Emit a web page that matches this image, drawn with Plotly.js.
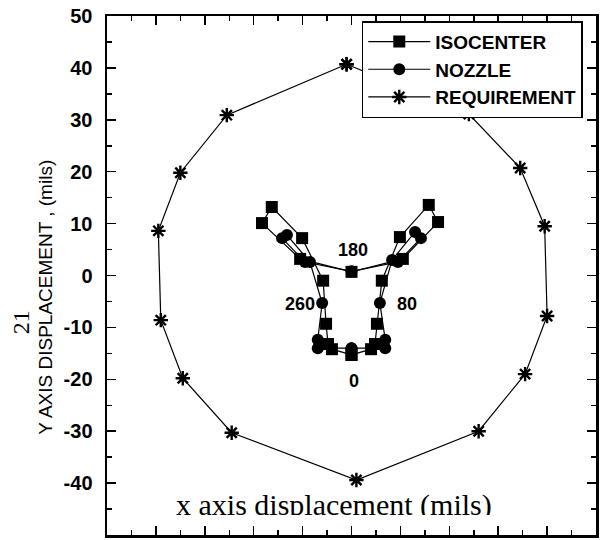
<!DOCTYPE html>
<html>
<head>
<meta charset="utf-8">
<script src="https://cdn.plot.ly/plotly-3.0.1.min.js"></script>
<style>html,body{margin:0;padding:0;background:#fff;}#chart{width:600px;height:540px;}</style>
</head>
<body>
<div id="chart"></div>
<script>
// ISOCENTER displacement (mils)
const isoX = [0, 4.0, 4.8, 5.2, 6.2, 9.9, 15.8, 17.7, 10.5, 0, -10.5, -18.3, -16.3, -10.1, -5.8, -5.2, -4.8, -4.0, 0];
const isoY = [-15.3, -14.2, -13.2, -9.3, -1.0, 7.4, 13.6, 10.3, 3.2, 0.7, 3.2, 10.1, 13.2, 7.2, -1.0, -9.3, -13.2, -14.2, -15.3];
// NOZZLE displacement (mils)
const nozX = [0, 6.9, 6.9, 5.8, 8.3, 13.0, 14.2, 9.5, 0, -9.5, -14.2, -13.2, -8.5, -6.0, -6.9, -6.9, 0];
const nozY = [-14.0, -14.0, -12.4, -5.3, 3.0, 8.4, 7.2, 2.6, 0.8, 2.6, 7.2, 7.8, 2.6, -5.3, -12.4, -14.0, -14.0];
// REQUIREMENT boundary (mils)
const reqX = [-1, -25.5, -35, -39.5, -39, -34.5, -24.5, 1, 26, 35.5, 40, 39.5, 34.5, 24, -1];
const reqY = [40.7, 30.9, 19.8, 8.6, -8.6, -19.8, -30.3, -39.4, -30, -19, -7.8, 9.5, 20.7, 31.1, 40.7];
// Gantry angle labels
const angLabels = ['180', '260', '80', '0'];
const angX = [0.3, -10.5, 11.3, 0.5];
const angY = [4.9, -5.5, -5.5, -20.3];
const yTicks = [-50, -40, -30, -20, -10, 0, 10, 20, 30, 40, 50];
const yTickText = ['-50', '-40', '-30', '-20', '-10', '0', '10', '20', '30', '40', '50'];

const lineStyle = {color: '#000', width: 1.2};
const traces = [
  {x: nozX, y: nozY, name: 'NOZZLE', mode: 'lines+markers', legendrank: 2,
   line: lineStyle, marker: {symbol: 'circle', size: 12, color: '#000'}},
  {x: isoX, y: isoY, name: 'ISOCENTER', mode: 'lines+markers', legendrank: 1,
   line: lineStyle, marker: {symbol: 'square', size: 12, color: '#000'}},
  {x: reqX, y: reqY, name: 'REQUIREMENT', mode: 'lines+markers', legendrank: 3,
   line: lineStyle, marker: {symbol: 'asterisk-open', size: 12, color: '#000', line: {color: '#000', width: 2.4}}}
];

const sans = 'Liberation Sans, Arial, sans-serif';
const serif = 'Liberation Serif, Times New Roman, serif';
const annotations = angLabels.map((t, i) => ({
  x: angX[i], y: angY[i], xref: 'x', yref: 'y', text: '<b>' + t + '</b>', showarrow: false,
  font: {family: sans, size: 18, color: '#000'}
}));
annotations.push({
  x: -3.6, y: -44.2, xref: 'x', yref: 'y', text: 'x axis displacement (mils)', showarrow: false,
  xanchor: 'center', yanchor: 'middle',
  font: {family: serif, size: 30, color: '#000'}
});
// white strip that clips the bottom of the pasted x-axis caption
annotations.push({
  x: -3.6, y: -47.15, xref: 'x', yref: 'y', text: '&nbsp;', showarrow: false,
  xanchor: 'center', yanchor: 'middle', width: 340, height: 11, bgcolor: '#fff',
  borderpad: 0, borderwidth: 0, font: {size: 6}
});
annotations.push({
  xref: 'paper', yref: 'paper', x: -0.125, y: 0.459, xanchor: 'center', yanchor: 'middle',
  text: 'Y AXIS DISPLACEMENT , (mils)', textangle: -90, showarrow: false,
  font: {family: sans, size: 19, color: '#000'}
});
annotations.push({
  xref: 'paper', yref: 'paper', x: -0.176, y: 0.41, xanchor: 'center', yanchor: 'middle',
  text: '21', textangle: -90, showarrow: false,
  font: {family: serif, size: 24, color: '#000'}
});

const layout = {
  width: 600, height: 540,
  margin: {l: 107, r: 4, t: 16, b: 5},
  paper_bgcolor: '#fff', plot_bgcolor: '#fff',
  showlegend: true,
  legend: {
    x: 0.521, y: 0.99, xanchor: 'left', yanchor: 'top',
    bgcolor: '#fff', bordercolor: '#000', borderwidth: 1.5,
    font: {family: sans, size: 19, color: '#000', weight: 'bold'},
    itemwidth: 62, tracegroupgap: 0
  },
  xaxis: {
    range: [-50, 50], dtick: 10, showgrid: false, zeroline: false,
    showticklabels: false, ticks: 'inside', ticklen: 9, tickwidth: 1.5, tickcolor: '#000',
    showline: true, linecolor: '#000', linewidth: 2.5, mirror: 'ticks',
    minor: {dtick: 5, ticks: 'inside', ticklen: 5, tickwidth: 1.5, tickcolor: '#000', showgrid: false}
  },
  yaxis: {
    range: [-50, 50], tickvals: yTicks, ticktext: yTickText.map(t => '<b>' + t + '</b>'),
    showgrid: false, zeroline: false,
    ticks: 'inside', ticklen: 9, tickwidth: 1.5, tickcolor: '#000',
    showline: true, linecolor: '#000', linewidth: 2.5, mirror: 'ticks',
    minor: {dtick: 5, ticks: 'inside', ticklen: 5, tickwidth: 1.5, tickcolor: '#000', showgrid: false},
    tickfont: {family: sans, size: 20, color: '#000'},
    ticklabelstandoff: 8
  },
  annotations: annotations
};

Plotly.newPlot('chart', traces, layout, {displayModeBar: false, staticPlot: true});
</script>
</body>
</html>
